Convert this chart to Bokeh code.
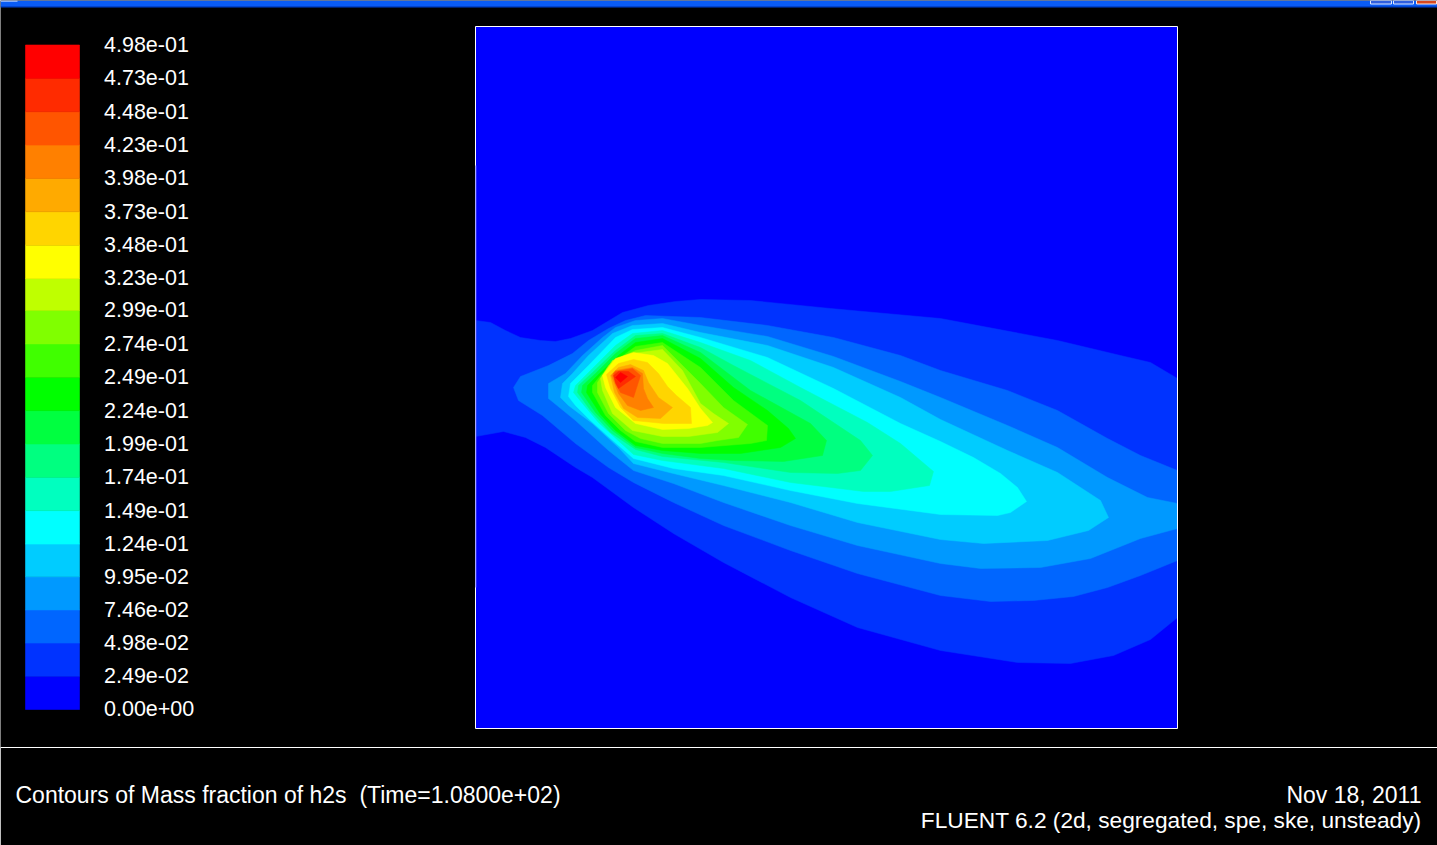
from bokeh.plotting import figure
from bokeh.models import Range1d, LinearScale
from bokeh.embed import file_html
from bokeh.resources import INLINE
from bokeh.core.properties import value

# Legend
LABELS = ["4.98e-01","4.73e-01","4.48e-01","4.23e-01","3.98e-01","3.73e-01","3.48e-01",
          "3.23e-01","2.99e-01","2.74e-01","2.49e-01","2.24e-01","1.99e-01","1.74e-01",
          "1.49e-01","1.24e-01","9.95e-02","7.46e-02","4.98e-02","2.49e-02","0.00e+00"]
COLORS = ["#0000ff","#0033ff","#0066ff","#0099ff","#00ccff","#00ffff","#00ffbf","#00ff80","#00ff40","#00ff00",
          "#40ff00","#80ff00","#bfff00","#ffff00","#ffd500","#ffaa00","#ff8000","#ff5500","#ff2b00","#ff0000"]

# Contour outlines, bands 1..19 (outermost first), in screen-scale domain units
BAND_01 = [(475,320),(490,322),(505,330),(520,337),(540,340),(555,341),(570,338),(592,330),(622,312),(648,305),(675,301),(700,299),(750,300),(830,308),(940,318),(1057,340),(1120,355),(1150,362),(1177,378),(1177,617),(1150,639),(1113,655),(1070,663),(1017,662),(940,650),(857,627),(790,597),(723,562),(673,533),(633,507),(592,477),(575,467),(545,447),(525,437),(503,431),(475,436)]
BAND_02 = [(513,387),(520,376),(548,365),(572,353),(588,340),(608,328),(625,320),(645,315),(700,317),(767,325),(833,337),(900,355),(940,370),(1007,390),(1057,410),(1107,438),(1140,455),(1177,470),(1177,560),(1140,575),(1107,587),(1073,596),(1033,600),(990,601),(940,595),(857,573),(790,550),(723,525),(673,502),(633,482),(608,467),(575,443),(542,415),(518,400)]
BAND_03 = [(548,390),(548,383),(565,373),(582,355),(602,337),(615,327),(635,320),(662,318),(700,325),(767,336),(833,356),(900,381),(940,397),(1007,425),(1057,447),(1107,477),(1147,497),(1177,503),(1177,528),(1140,538),(1090,558),(1040,567),(980,568),(940,563),(857,545),(790,525),(723,502),(673,483),(633,470),(608,450),(575,420),(548,398)]
BAND_04 = [(560,397),(562,383),(572,373),(588,355),(612,333),(632,325),(662,323),(700,332),(767,345),(833,367),(900,397),(940,419),(1007,450),(1057,472),(1100,500),(1108,517),(1088,530),(1047,540),(983,543),(940,539),(857,522),(790,502),(723,485),(673,473),(633,463),(618,447),(592,423),(568,405)]
BAND_05 = [(568,396),(570,383),(588,365),(615,337),(632,329),(662,327),(700,337),(767,357),(833,388),(900,423),(940,441),(973,457),(1000,473),(1017,487),(1026,501),(1010,512),(997,515),(940,514),(857,503),(790,490),(723,475),(673,468),(633,458),(610,438),(590,420),(575,405)]
BAND_06 = [(573,392),(575,385),(590,370),(615,345),(632,333),(662,330),(700,342),(750,360),(800,387),(867,422),(900,443),(933,471),(929,485),(890,491),(863,491),(790,482),(723,468),(662,460),(633,454),(610,433),(598,422),(582,403)]
BAND_07 = [(577,392),(578,385),(592,372),(615,350),(635,335),(662,333),(700,347),(733,365),(800,400),(860,440),(872,455),(860,470),(837,473),(790,472),(723,462),(662,456),(635,449),(610,432),(590,410)]
BAND_08 = [(581,392),(582,385),(595,373),(615,353),(635,338),(662,335),(700,352),(750,390),(810,423),(826,440),(822,455),(783,461),(733,460),(700,458),(662,453),(635,447),(612,430),(595,412)]
BAND_09 = [(586,392),(587,385),(597,375),(618,355),(635,342),(662,338),(700,358),(733,387),(767,410),(788,428),(795,438),(780,447),(740,453),(700,453),(662,450),(635,445),(615,430),(600,414)]
BAND_10 = [(592,392),(592,385),(600,375),(620,357),(635,346),(662,342),(700,367),(733,400),(767,425),(766,440),(750,443),(700,447),(662,447),(635,441),(620,430),(605,415)]
BAND_11 = [(597,392),(597,382),(608,365),(622,356),(635,350),(662,345),(700,383),(723,407),(747,424),(738,437),(717,440),(700,443),(662,443),(640,438),(625,430),(608,413)]
BAND_12 = [(600,378),(612,360),(632,353),(662,349),(682,370),(700,403),(713,413),(728,423),(717,432),(688,436),(662,436),(632,430),(612,413),(602,390)]
BAND_13 = [(602,375),(615,358),(633,352),(653,355),(667,363),(687,388),(700,408),(712,422),(707,425),(688,428),(662,429),(635,423),(615,407),(605,387)]
BAND_14 = [(606,374),(618,363),(633,359),(647,362),(658,373),(667,386),(676,395),(690,407),(691,423),(663,423),(633,420),(620,407),(610,388)]
BAND_15 = [(610,375),(618,367),(630,364),(643,370),(648,382),(658,397),(672,407),(660,418),(637,417),(623,408),(614,392)]
BAND_16 = [(611,375),(615,370),(632,367),(642,373),(643,388),(647,398),(653,407),(640,410),(627,405),(618,393)]
BAND_17 = [(613,373),(615,371),(632,368),(640,375),(633,397),(620,392),(615,383)]
BAND_18 = [(613,375),(618,371),(628,371),(635,376),(625,383),(618,388),(615,382)]
BAND_19 = [(615,377),(620,372),(627,376),(620,382)]
BANDS = [BAND_01,BAND_02,BAND_03,BAND_04,BAND_05,BAND_06,BAND_07,BAND_08,BAND_09,BAND_10,
         BAND_11,BAND_12,BAND_13,BAND_14,BAND_15,BAND_16,BAND_17,BAND_18,BAND_19]

TITLE = "Contours of Mass fraction of h2s\u00a0\u00a0(Time=1.0800e+02)"
DATE = "Nov 18, 2011"
SOLVER = "FLUENT 6.2 (2d, segregated, spe, ske, unsteady)"

W, H = 1437, 845
p = figure(width=W, height=H, x_range=Range1d(0, W), y_range=Range1d(H, 0),
           output_backend="svg", toolbar_location=None, min_border=0,
           background_fill_color="black", border_fill_color="black",
           outline_line_color=None, tools="",
           styles={"position": "absolute", "left": "0", "top": "0"})
p.axis.visible = False
p.grid.visible = False

# legend value scale: top label at y=45, zero at y=709
vals = [float(s) for s in LABELS]
vmax = vals[0]
k = (709 - 44.5) / vmax
p.extra_y_ranges["legend"] = Range1d(start=(709 - H) / k, end=709 / k)
p.extra_y_scales["legend"] = LinearScale()

asc = vals[::-1]
p.quad(left=25, right=79, bottom=asc[:-1], top=asc[1:], fill_color=COLORS, line_color=COLORS, line_width=0.6,
       y_range_name="legend")
p.text(x=103.5, y=vals, text=LABELS, y_range_name="legend", text_color="white", y_offset=-0.6,
       text_font=value("Liberation Sans"), text_font_size="21.5px", text_baseline="middle", text_align="left")

# domain
p.quad(left=[475], right=[1177], top=[26], bottom=[728], fill_color=COLORS[0], line_color=None)
for band, col in zip(BANDS, COLORS[1:]):
    p.patch([q[0] for q in band], [q[1] for q in band], fill_color=col, line_color=col, line_width=0.5)
p.quad(left=[475], right=[1177], top=[26], bottom=[728], fill_color=None, line_color="white", line_width=1)
p.quad(left=[475], right=[476], top=[165], bottom=[587], fill_color="#5050ff", line_color=None)

# footer box (its right and bottom edges fall just outside the picture)
p.quad(left=[0], right=[1440], top=[747], bottom=[850], fill_color=None, line_color="white", line_width=1)
p.text(x=[15], y=[795], text=[TITLE], text_color="white", text_font=value("Liberation Sans"), y_offset=-1,
       text_font_size="23px", text_baseline="middle")
p.text(x=[1421], y=[795], text=[DATE], text_color="white", text_font=value("Liberation Sans"), y_offset=-1,
       text_font_size="23px", text_baseline="middle", text_align="right")
p.text(x=[1421], y=[820], text=[SOLVER], text_color="white", text_font=value("Liberation Sans"), y_offset=-1,
       text_font_size="22.7px", text_baseline="middle", text_align="right")

# window title bar
p.quad(left=[0], right=[1437], top=[0], bottom=[5.5], fill_color="#0a5cf5", line_color=None)
p.quad(left=[0], right=[1437], top=[5.5], bottom=[7], fill_color="#0043cf", line_color=None)
p.quad(left=[0], right=[17], top=[0], bottom=[1], fill_color="white", line_color=None)
p.quad(left=[1370, 1393], right=[1391, 1413], top=[0, 0], bottom=[3.5, 3.5], fill_color="#2f5fe0",
       line_color="#dfe8ff", line_width=1)
p.quad(left=[1416], right=[1436], top=[0], bottom=[3.5], fill_color="#d8481e", line_color="#ffe8df", line_width=1)

open("out.html", "w").write(file_html(p, INLINE))
